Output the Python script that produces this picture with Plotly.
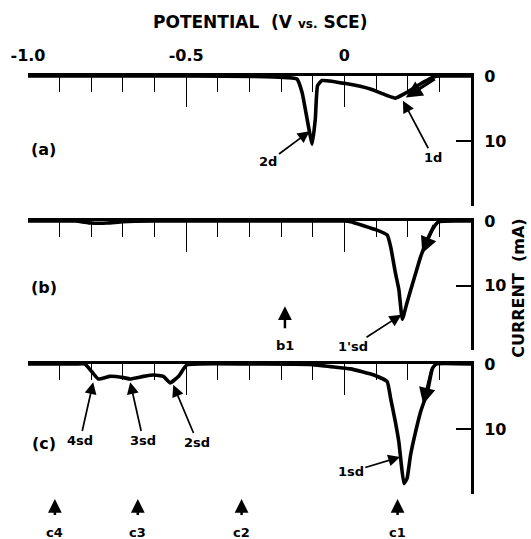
import plotly.graph_objects as go

# ---------------- data (potential in V vs. SCE, current in mA) ----------------
pot_a = [-1.0, -0.5, -0.25, -0.18, -0.15, -0.134, -0.118, -0.102, -0.092, -0.085,
         -0.071, 0.009, 0.082, 0.135, 0.161, 0.198, 0.241, 0.282, 0.30, 0.4]
cur_a = [0.0, 0.0, 0.1, 0.25, 0.46, 2.5, 6.6, 10.5, 6.6, 1.5,
         0.7, 1.2, 2.0, 3.0, 3.4, 2.5, 1.2, 0.15, 0.0, 0.0]

pot_b = [-1.0, -0.85, -0.8, -0.75, -0.7, -0.6, -0.3, 0.0, 0.019, 0.103, 0.135,
         0.146, 0.161, 0.172, 0.183, 0.198, 0.219, 0.241, 0.262, 0.283, 0.298, 0.4]
cur_b = [0.0, 0.0, 0.3, 0.3, 0.1, 0.0, 0.0, 0.0, 0.1, 1.4, 2.15,
         3.95, 8.0, 10.6, 15.2, 12.6, 9.1, 5.5, 2.9, 0.9, 0.1, 0.0]

pot_c = [-1.0, -0.85, -0.82, -0.798, -0.778, -0.741, -0.698, -0.677, -0.635, -0.603,
         -0.572, -0.551, -0.524, -0.498, -0.3, -0.1, -0.044, 0.019, 0.093, 0.135,
         0.146, 0.161, 0.172, 0.179, 0.188, 0.198, 0.209, 0.225, 0.241, 0.262,
         0.278, 0.29, 0.4]
cur_c = [0.0, 0.0, 0.0, 1.2, 2.3, 1.9, 2.1, 2.3, 1.9, 1.7,
         1.9, 2.9, 1.9, 0.15, 0.0, 0.1, 0.4, 0.75, 1.7, 2.7,
         5.3, 8.9, 12.0, 15.1, 18.4, 17.6, 14.0, 10.4, 7.3, 4.3,
         0.7, 0.0, 0.0]

x_range = [-1.0, 0.4]
y_range = [20, 0]
major_ticks = [-1.0, -0.5, 0.0]
major_labels = ["-1.0", "-0.5", "0"]
minor_ticks = [-0.9, -0.8, -0.7, -0.6, -0.4, -0.3, -0.2, -0.1, 0.1, 0.2, 0.3]
y_ticks = [0, 10, 20]
y_labels = ["0", "10", ""]

# peak labels: (panel, text, tip potential, tip current, text potential, text current)
peak_labels = [
    (1, "2d", -0.110, 8.5, -0.240, 13.2),
    (1, "1d", 0.185, 3.8, 0.280, 12.5),
    (2, "1'sd", 0.180, 14.5, 0.026, 19.4),
    (3, "1sd", 0.176, 14.3, 0.020, 16.6),
    (3, "4sd", -0.794, 2.8, -0.835, 11.7),
    (3, "3sd", -0.677, 2.8, -0.636, 11.7),
    (3, "2sd", -0.541, 3.2, -0.465, 12.0),
]
# scan-direction arrows: (panel, tail pot, tail cur, tip pot, tip cur)
scan_arrows = [
    (1, 0.29, 0.3, 0.194, 3.3),
    (2, 0.285, 0.4, 0.246, 5.0),
    (3, 0.277, 0.6, 0.249, 6.2),
]
b_marks = [-0.188]
b_names = ["b1"]
c_marks = [-0.915, -0.653, -0.325, 0.168]
c_names = ["c4", "c3", "c2", "c1"]

FONT = "DejaVu Sans"
fig = go.Figure()

series = [(pot_a, cur_a), (pot_b, cur_b), (pot_c, cur_c)]
domains = [[0.689, 1.0], [0.344, 0.653], [0.0, 0.311]]
for i, (px, cy) in enumerate(series, start=1):
    sfx = "" if i == 1 else str(i)
    fig.add_trace(go.Scatter(x=px, y=cy, mode="lines",
                             line=dict(color="black", width=3.6, shape="spline", smoothing=0.4),
                             xaxis="x" + sfx, yaxis="y" + sfx, showlegend=False,
                             hoverinfo="skip"))
    fig.update_layout(**{
        "xaxis" + sfx: dict(domain=[0, 1], anchor="y" + sfx, side="top", range=x_range,
                            showline=True, linewidth=3, linecolor="black",
                            showgrid=False, zeroline=False,
                            tickmode="array", tickvals=major_ticks, ticktext=major_labels,
                            ticks="inside", ticklen=31, tickwidth=1.2, tickcolor="black",
                            showticklabels=(i == 1), ticklabelstandoff=6,
                            tickfont=dict(family=FONT, size=16, color="black", weight="bold"),
                            minor=dict(tickvals=minor_ticks, ticks="inside", ticklen=16,
                                       tickwidth=1.2, tickcolor="black", showgrid=False)),
        "yaxis" + sfx: dict(domain=domains[i - 1], anchor="x" + sfx, side="right",
                            range=y_range, showline=True, linewidth=3, linecolor="black",
                            showgrid=False, zeroline=False,
                            tickmode="array", tickvals=y_ticks, ticktext=y_labels,
                            ticks="inside", ticklen=15, tickwidth=1.5, tickcolor="black",
                            ticklabelstandoff=7,
                            tickfont=dict(family=FONT, size=16, color="black", weight="bold")),
    })

ann = []
for (p, txt, tx, ty, lx, ly) in peak_labels:
    sfx = "" if p == 1 else str(p)
    ann.append(dict(x=tx, y=ty, xref="x" + sfx, yref="y" + sfx,
                    ax=lx, ay=ly, axref="x" + sfx, ayref="y" + sfx,
                    text=txt, showarrow=True, arrowhead=2, arrowsize=1.4,
                    arrowwidth=1.7, arrowcolor="black",
                    font=dict(family=FONT, size=13, color="black", weight="bold")))
for (p, x0, y0, x1, y1) in scan_arrows:
    sfx = "" if p == 1 else str(p)
    ann.append(dict(x=x1, y=y1, xref="x" + sfx, yref="y" + sfx,
                    ax=x0, ay=y0, axref="x" + sfx, ayref="y" + sfx,
                    text="", showarrow=True, arrowhead=2, arrowsize=1.1,
                    arrowwidth=3, arrowcolor="black"))
for v, nm in zip(b_marks, b_names):
    ann.append(dict(x=v, y=13.2, xref="x2", yref="y2", ax=0, ay=39,
                    text=nm, showarrow=True, arrowhead=2, arrowsize=1.1,
                    arrowwidth=2.5, arrowcolor="black", startstandoff=8,
                    font=dict(family=FONT, size=13, color="black", weight="bold")))
for v, nm in zip(c_marks, c_names):
    ann.append(dict(x=v, y=-0.012, xref="x3", yref="paper", ax=0, ay=33,
                    text=nm, showarrow=True, arrowhead=2, arrowsize=1.1,
                    arrowwidth=2.5, arrowcolor="black", startstandoff=8,
                    font=dict(family=FONT, size=13, color="black", weight="bold")))

# titles and panel labels
ann.append(dict(x=0.524, y=1.129, xref="paper", yref="paper", showarrow=False,
                xanchor="center", yanchor="middle",
                text="POTENTIAL&nbsp;&nbsp;(V <span style='font-size:12px'>vs.</span> SCE)",
                font=dict(family=FONT, size=17, color="black", weight="bold")))
ann.append(dict(x=1.108, y=0.493, xref="paper", yref="paper", showarrow=False,
                xanchor="center", yanchor="middle",
                text="CURRENT&nbsp;&nbsp;(mA)", textangle=-90,
                font=dict(family=FONT, size=16, color="black", weight="bold")))
for lbl, yy in zip(["(a)", "(b)", "(c)"], [0.823, 0.493, 0.122]):
    ann.append(dict(x=0.036, y=yy, xref="paper", yref="paper", showarrow=False,
                    xanchor="center", yanchor="middle",
                    text=lbl, font=dict(family=FONT, size=16, color="black", weight="bold")))

fig.update_layout(width=531, height=539, margin=dict(l=28, r=60, t=76, b=45),
                  paper_bgcolor="white", plot_bgcolor="white", annotations=ann,
                  showlegend=False)
fig.write_html("out.html")
